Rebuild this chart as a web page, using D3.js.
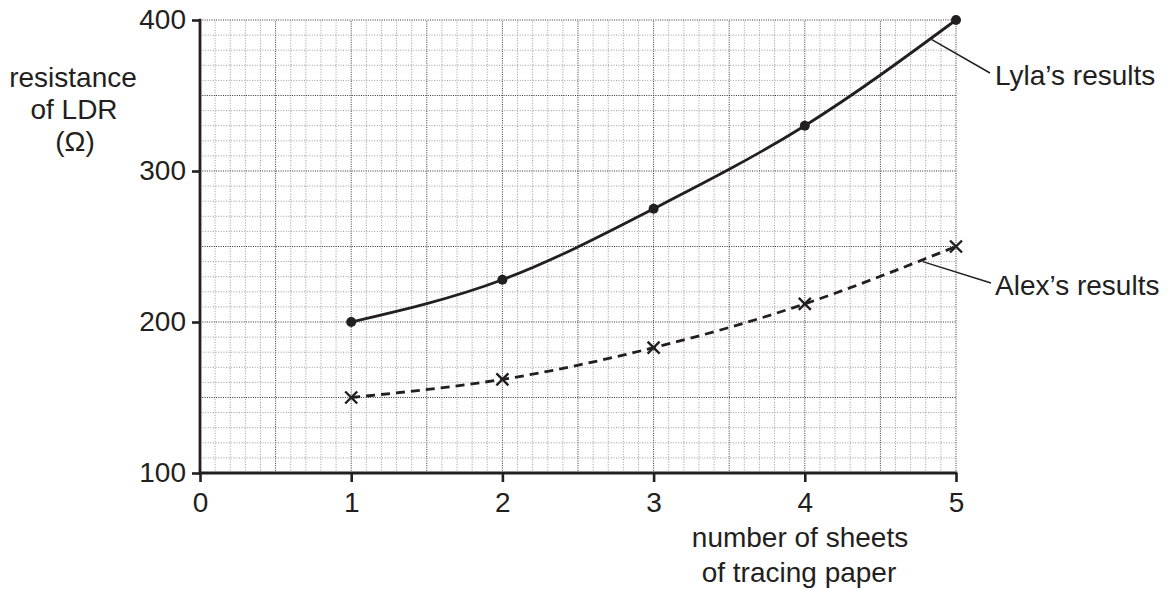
<!DOCTYPE html>
<html>
<head>
<meta charset="utf-8">
<script src="https://cdn.jsdelivr.net/npm/d3@7"></script>
<style>
  body { margin: 0; background: #fff; }
  text { font-family: "Liberation Sans", Arial, sans-serif; fill: #231f20; }
</style>
</head>
<body>
<div id="chart"></div>
<script>
var sheets = [1, 2, 3, 4, 5]
var lylaResults = [200, 228, 275, 330, 400]
var alexResults = [150, 162, 183, 212, 250]
var xTicks = [0, 1, 2, 3, 4, 5]
var yTicks = [100, 200, 300, 400]

var width = 1173,
    height = 590,
    ink = '#231f20'

var svg = d3.select('#chart').append('svg')
    .attr('width', width)
    .attr('height', height)

var x = d3.scaleLinear()
    .domain([0, 5])
    .range([200, 956])

var y = d3.scaleLinear()
    .domain([100, 400])
    .range([473, 20])

// graph paper grid
var grid = svg.append('g')
var xMinor = d3.range(1, 51).map(function (d) { return d / 10 })
var yMinor = d3.range(11, 41).map(function (d) { return d * 10 })

function isMajorX(d) { return Math.round(d * 10) % 5 == 0 }
function isMajorY(d) { return d % 50 == 0 }

grid.selectAll('.vx').data(xMinor).enter().append('line')
    .attr('x1', function (d) { return x(d) })
    .attr('x2', function (d) { return x(d) })
    .attr('y1', y(100))
    .attr('y2', y(400))
    .attr('stroke', function (d) { return isMajorX(d) ? '#333' : '#999' })
    .attr('stroke-width', 1)
    .attr('stroke-dasharray', function (d) { return isMajorX(d) ? '1,1.3' : '1,1.6' })

grid.selectAll('.hy').data(yMinor).enter().append('line')
    .attr('x1', x(0))
    .attr('x2', x(5))
    .attr('y1', function (d) { return y(d) })
    .attr('y2', function (d) { return y(d) })
    .attr('stroke', function (d) { return isMajorY(d) ? '#333' : '#999' })
    .attr('stroke-width', 1)
    .attr('stroke-dasharray', function (d) { return isMajorY(d) ? '1,1.3' : '1,1.6' })

// axes
svg.append('g')
    .attr('transform', 'translate(0,' + y(100) + ')')
    .call(d3.axisBottom(x).tickValues(xTicks).tickSize(9).tickPadding(10).tickFormat(d3.format('d')))

svg.append('g')
    .attr('transform', 'translate(' + x(0) + ',0)')
    .call(d3.axisLeft(y).tickValues(yTicks).tickSize(8).tickPadding(6).tickFormat(d3.format('d')))

svg.selectAll('.domain').remove()
svg.selectAll('.tick line').attr('stroke', ink).attr('stroke-width', 2.6)
svg.selectAll('.tick text')
    .style('font-family', '"Liberation Sans", Arial, sans-serif')
    .style('font-size', '28px')
    .attr('fill', ink)

svg.append('line')
    .attr('x1', x(0)).attr('x2', x(0))
    .attr('y1', y(400) - 1.3).attr('y2', y(100) + 1.3)
    .attr('stroke', ink).attr('stroke-width', 2.8)
svg.append('line')
    .attr('x1', x(0) - 1.3).attr('x2', x(5) + 1.3)
    .attr('y1', y(100)).attr('y2', y(100))
    .attr('stroke', ink).attr('stroke-width', 2.8)

// data
var lyla = sheets.map(function (d, i) { return { n: d, v: lylaResults[i] } })
var alex = sheets.map(function (d, i) { return { n: d, v: alexResults[i] } })

var line = d3.line()
    .x(function (d) { return x(d.n) })
    .y(function (d) { return y(d.v) })
    .curve(d3.curveNatural)

svg.append('path')
    .datum(lyla)
    .attr('d', line)
    .attr('fill', 'none')
    .attr('stroke', ink)
    .attr('stroke-width', 2.8)

svg.selectAll('.dot').data(lyla).enter().append('circle')
    .attr('cx', function (d) { return x(d.n) })
    .attr('cy', function (d) { return y(d.v) })
    .attr('r', 5)
    .attr('fill', ink)

svg.append('path')
    .datum(alex)
    .attr('d', line)
    .attr('fill', 'none')
    .attr('stroke', ink)
    .attr('stroke-width', 2.8)
    .attr('stroke-dasharray', '9,6')

var cross = svg.selectAll('.cross').data(alex).enter().append('g')
    .attr('transform', function (d) { return 'translate(' + x(d.n) + ',' + y(d.v) + ')' })
cross.append('path')
    .attr('d', 'M-6,-6L6,6M-6,6L6,-6')
    .attr('stroke', ink)
    .attr('stroke-width', 2.4)

// labels with leader lines
svg.append('line')
    .attr('x1', x(4.84)).attr('y1', y(387))
    .attr('x2', 990).attr('y2', 73)
    .attr('stroke', ink).attr('stroke-width', 1.5)
svg.append('text')
    .attr('x', 995).attr('y', 85)
    .style('font-size', '28px')
    .text('Lyla\u2019s results')

svg.append('line')
    .attr('x1', x(4.78)).attr('y1', y(240))
    .attr('x2', 991).attr('y2', 283)
    .attr('stroke', ink).attr('stroke-width', 1.5)
svg.append('text')
    .attr('x', 995).attr('y', 295)
    .style('font-size', '28px')
    .text('Alex\u2019s results')

// axis titles
var yTitle = svg.append('text')
    .attr('text-anchor', 'middle')
    .style('font-size', '28px')
yTitle.append('tspan').attr('x', 73).attr('y', 87).text('resistance')
yTitle.append('tspan').attr('x', 74).attr('y', 119).text('of LDR')
yTitle.append('tspan').attr('x', 75).attr('y', 151).text('(\u03a9)')

var xTitle = svg.append('text')
    .attr('text-anchor', 'middle')
    .style('font-size', '28px')
xTitle.append('tspan').attr('x', 800).attr('y', 547).text('number of sheets')
xTitle.append('tspan').attr('x', 799).attr('y', 582).text('of tracing paper')
</script>
</body>
</html>
